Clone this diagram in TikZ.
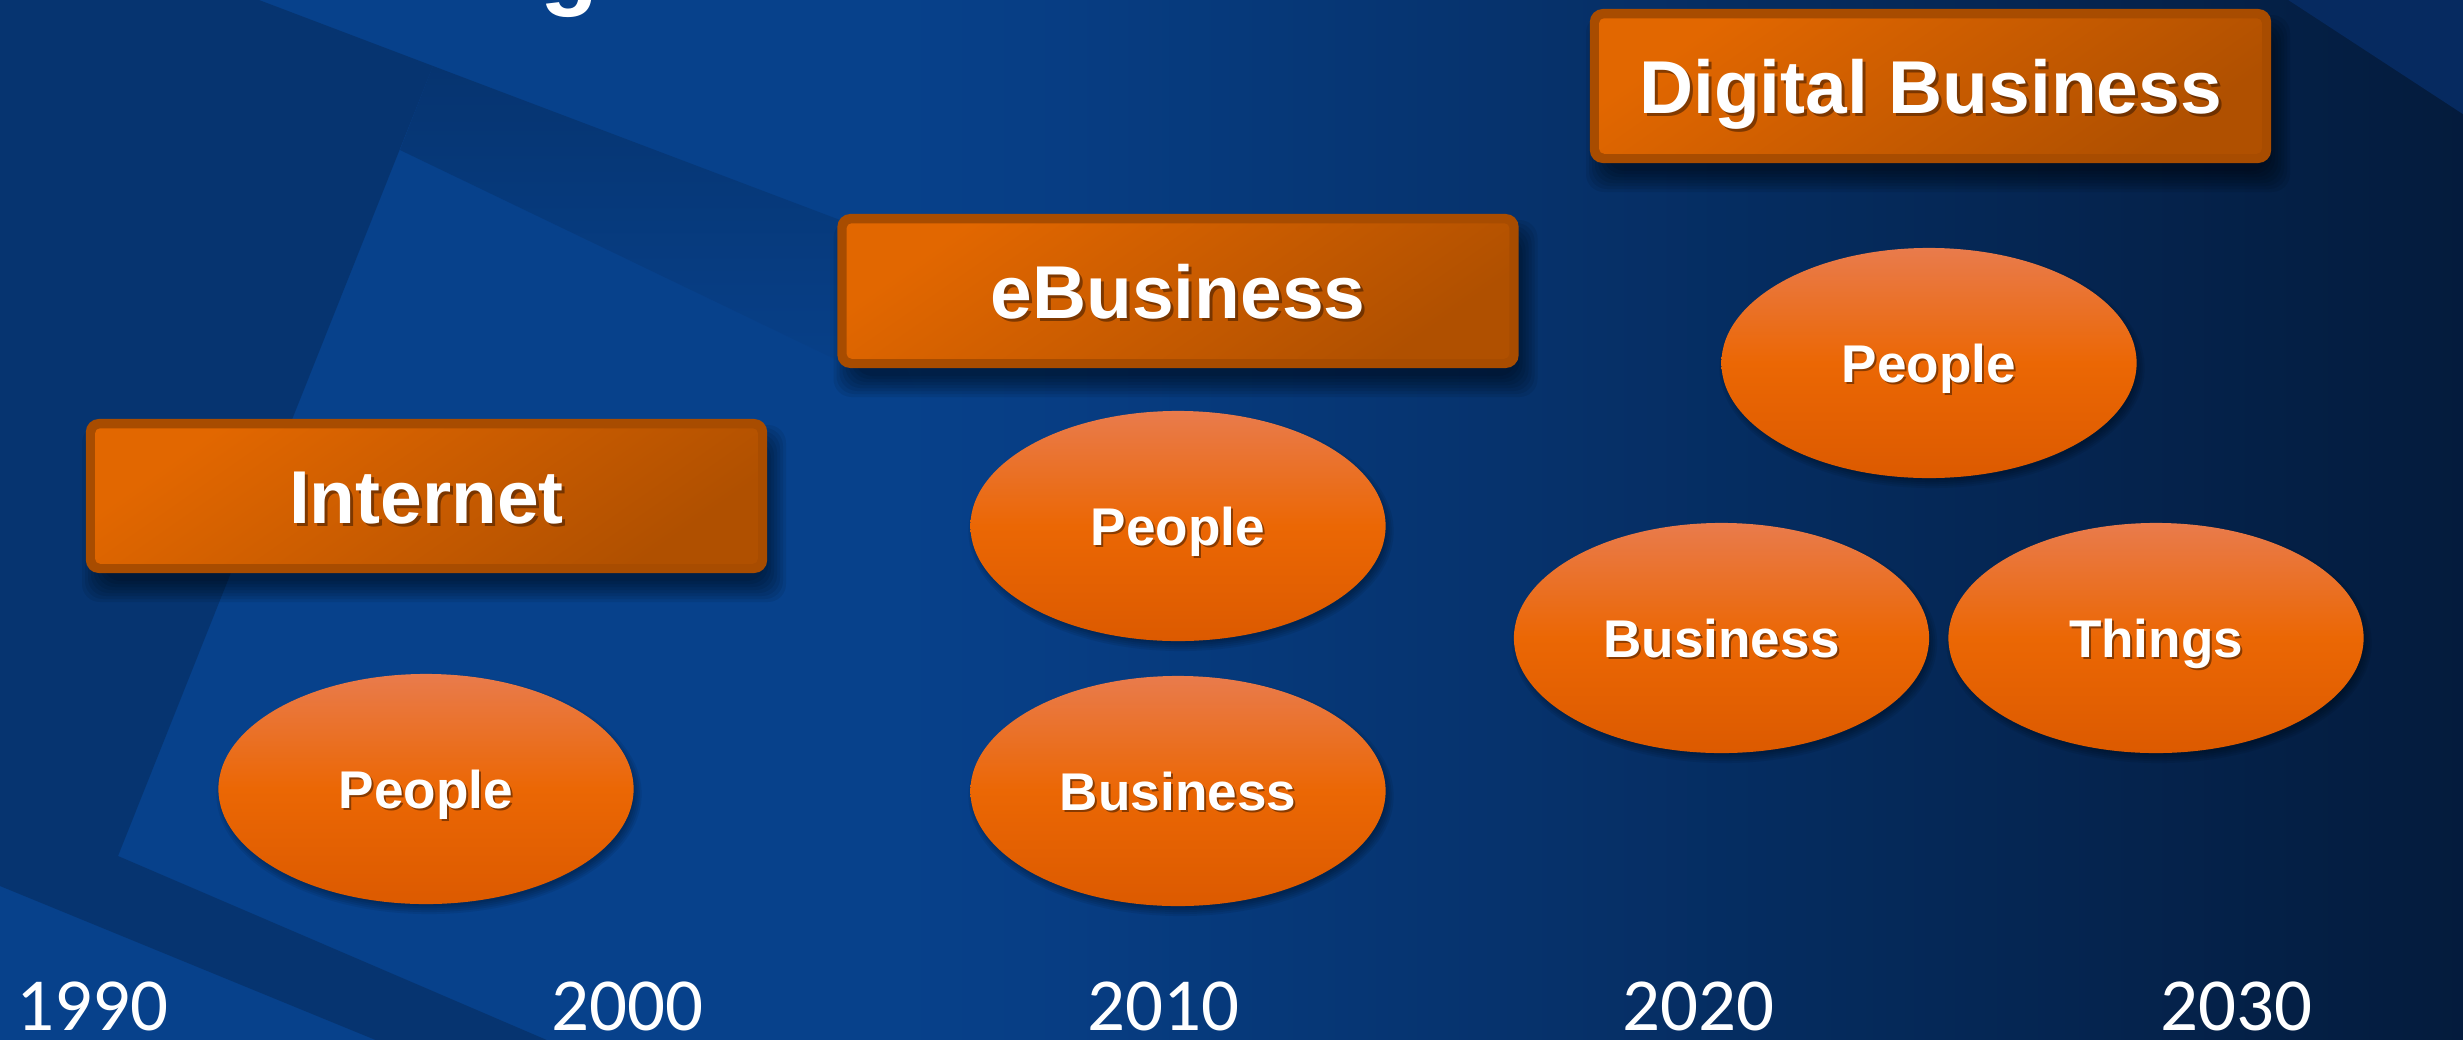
\documentclass[tikz,border=0pt]{standalone}
\usepackage{fontspec}
\setmainfont{Liberation Sans}
\newfontfamily\yearfont{Carlito}
\usetikzlibrary{shapes.geometric,calc}
\definecolor{bgLight}{HTML}{07418B}
\definecolor{bgDark}{HTML}{063470}
\definecolor{bgRight}{HTML}{041B3C}
\definecolor{bgCorner}{HTML}{062A60}
\definecolor{boxBorder}{HTML}{A84C00}
\definecolor{boxLight}{HTML}{E26700}
\definecolor{boxDark}{HTML}{B05000}
\definecolor{elTop}{HTML}{E97B4C}
\definecolor{elMid}{HTML}{EB6704}
\definecolor{elBot}{HTML}{DC5A00}
\definecolor{txtShadow}{HTML}{3A1800}
\tikzset{
  stagebox/.style={rectangle, minimum width=6.81cm, minimum height=1.54cm, inner sep=0pt, fill=boxBorder, rounded corners=0.13cm},
  stageinner/.style={top color=boxLight, bottom color=boxDark, shading angle=35, rounded corners=0.05cm},
  stagetext/.style={font=\bfseries\fontsize{21.3pt}{24pt}\selectfont, text=white, inner sep=0pt, anchor=base},
  bubble/.style={ellipse, minimum width=4.15cm, minimum height=2.30cm, inner sep=0pt, top color=elTop, bottom color=elBot, middle color=elMid},
  bubbletext/.style={font=\bfseries\fontsize{15.1pt}{18pt}\selectfont, text=white, inner sep=0pt, anchor=base},
  shadowtext/.style={text=txtShadow, opacity=0.55},
  yeartext/.style={font=\yearfont\fontsize{21.3pt}{24pt}\selectfont, text=white, inner sep=0pt, anchor=base},
}
\newcommand\stageat[4]{%
  \foreach \e in {-10,-7,...,11} {
    \fill[black, opacity=0.075, rounded corners=0.18cm]
      ($(#2,#3)+({-333.5-(\e)},{-60-(\e)})$) rectangle ($(#2,#3)+({348.5+(\e)},{95+(\e)})$);
  }
  \node[stagebox] (#1) at (#2,#3) {};
  \shade[stageinner] ($(#1.north west)+(10,10)$) rectangle ($(#1.south east)+(-10,-10)$);
  \node[stagetext, shadowtext] (#1s) at ($(#2,#3)+(3,30)$) {#4};
  \node[stagetext] (#1t) at ($(#2,#3)+(0,27)$) {#4};
}
\newcommand\bubbleat[4]{%
  \foreach \e in {-3,-1,...,5} {
    \fill[black, opacity=0.07] ($(#2,#3)+(3,5)$) ellipse [x radius={2.075cm+(\e)*0.01cm}, y radius={1.15cm+(\e)*0.01cm}];
  }
  \node[bubble] (#1) at (#2,#3) {};
  \node[bubbletext, shadowtext] (#1s) at ($(#2,#3)+(2,21)$) {#4};
  \node[bubbletext] (#1t) at ($(#2,#3)+(0,19)$) {#4};
}
\begin{document}
\begin{tikzpicture}[x=0.01cm,y=-0.01cm]
\useasboundingbox (0,0) rectangle (2463,1039);
% background (slightly oversized, page crops it)
\fill[bgLight] (-8,-8) rectangle (901,1050);
\shade[left color=bgLight, right color=bgRight] (900,-8) rectangle (2472,1050);
\shade[top color=bgDark, bottom color=bgLight] (433,66) -- (840,220) -- (920,400) -- (400,150) -- cycle;
\fill[bgDark] (-8,-8) -- (259,-8) -- (259,0) -- (433,66) -- (118,856) -- (570,1050) -- (400,1050) -- (0,886) -- (-8,886) -- cycle;
\fill[bgCorner] (2276,-8) -- (2472,-8) -- (2472,120) -- cycle;
% clipped title fragment
\begin{scope}
  \clip (0,0) rectangle (2463,1039);
  \node[font=\bfseries\fontsize{27pt}{32pt}\selectfont, text=white, inner sep=0pt, anchor=base west] (titleg) at (540,-3) {g};
\end{scope}
% stages
\stageat{internet}{426.5}{496}{Internet}
\stageat{ebiz}{1178}{291}{eBusiness}
\stageat{digital}{1930.5}{86}{Digital Business}
% bubbles
\bubbleat{peopleA}{426}{789}{People}
\bubbleat{peopleB}{1178}{526}{People}
\bubbleat{businessB}{1178}{791}{Business}
\bubbleat{peopleC}{1929}{363}{People}
\bubbleat{businessC}{1721.5}{638}{Business}
\bubbleat{thingsC}{2156}{638}{Things}
% years
\node[yeartext] (y1990) at (92,1030) {1990};
\node[yeartext] (y2000) at (627,1030) {2000};
\node[yeartext] (y2010) at (1163,1030) {2010};
\node[yeartext] (y2020) at (1698,1030) {2020};
\node[yeartext] (y2030) at (2236,1030) {2030};
\end{tikzpicture}
\end{document}
